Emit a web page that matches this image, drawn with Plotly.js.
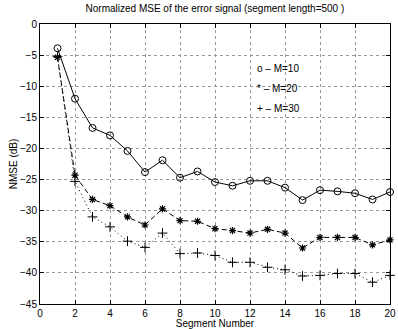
<!DOCTYPE html>
<html><head><meta charset="utf-8">
<script src="https://cdn.plot.ly/plotly-3.0.1.min.js"></script>
<style>html,body{margin:0;padding:0;background:#fff}#chart{width:398px;height:329px}</style>
</head><body><div id="chart"></div>
<script>
const segments = [1,2,3,4,5,6,7,8,9,10,11,12,13,14,15,16,17,18,19,20];
const nmseM10 = [-3.9,-12.0,-16.7,-17.9,-20.4,-23.8,-21.9,-24.7,-23.7,-25.4,-26.0,-25.2,-25.2,-26.3,-28.3,-26.7,-26.9,-27.2,-28.2,-27.0];
const nmseM20 = [-5.35,-24.3,-28.2,-29.2,-31.0,-32.3,-29.7,-31.6,-31.7,-32.9,-33.2,-33.6,-33.0,-33.6,-36.0,-34.3,-34.3,-34.3,-35.5,-34.7];
const nmseM30 = [-5.2,-25.3,-31.0,-32.6,-34.9,-35.9,-33.6,-36.9,-36.8,-37.2,-38.3,-38.3,-39.1,-39.5,-40.5,-40.4,-40.1,-40.1,-41.5,-40.4];
const legendLabels = ["o \u2013 M=10","* \u2013 M=20","+ \u2013 M=30"];
const xTicks = [0,2,4,6,8,10,12,14,16,18,20];
const yTicks = [0,-5,-10,-15,-20,-25,-30,-35,-40,-45];

const font = {family:"Liberation Sans, Arial, sans-serif", size:10, color:"#000"};
const traces = [
  {x:segments, y:nmseM10, mode:"lines+markers", cliponaxis:false, line:{color:"#000",width:1,dash:"solid"},
   marker:{symbol:"circle-open",size:7,color:"#000",line:{width:1,color:"#000"}}},
  {x:segments, y:nmseM20, mode:"lines+markers", cliponaxis:false, line:{color:"#000",width:1,dash:"5px,3px"},
   marker:{symbol:"asterisk-open",size:6,color:"#000",line:{width:1.2,color:"#000"}}},
  {x:segments, y:nmseM30, mode:"lines+markers", cliponaxis:false, line:{color:"#000",width:1,dash:"1px,3px"},
   marker:{symbol:"cross-thin-open",size:7,color:"#000",line:{width:1,color:"#000"}}}
];
const legendY = [-7.1,-10.3,-13.5];
const annotations = legendLabels.map((t,i)=>({x:12.3,y:legendY[i],xref:"x",yref:"y",text:t,showarrow:false,xanchor:"left",yanchor:"middle",font:font}));
const axisCommon = {showline:true, mirror:"ticks", linecolor:"#000", linewidth:1, ticks:"inside", ticklen:4, tickcolor:"#000",
  showgrid:true, gridcolor:"#999", griddash:"dot", gridwidth:1, zeroline:false, tickfont:font, ticklabeloverflow:"allow"};
const layout = {
  width:398, height:329, margin:{l:40,r:8,t:24,b:25},
  paper_bgcolor:"#fff", plot_bgcolor:"#fff", showlegend:false, font:font,
  title:{text:"Normalized MSE of the error signal (segment length=500 )", font:font, x:0.54, xanchor:"center", y:0.985, yanchor:"top"},
  xaxis:Object.assign({}, axisCommon, {range:[0,20], tickvals:xTicks, ticktext:xTicks.map(String),
    title:{text:"Segment Number", font:font, standoff:0}}),
  yaxis:Object.assign({}, axisCommon, {range:[-45,0], tickvals:yTicks, ticktext:yTicks.map(v=>v===0?"0":"\u2212"+Math.abs(v)),
    title:{text:"NMSE (dB)", font:font, standoff:0}}),
  annotations:annotations
};
Plotly.newPlot("chart", traces, layout, {displayModeBar:false, staticPlot:true});
</script></body></html>
